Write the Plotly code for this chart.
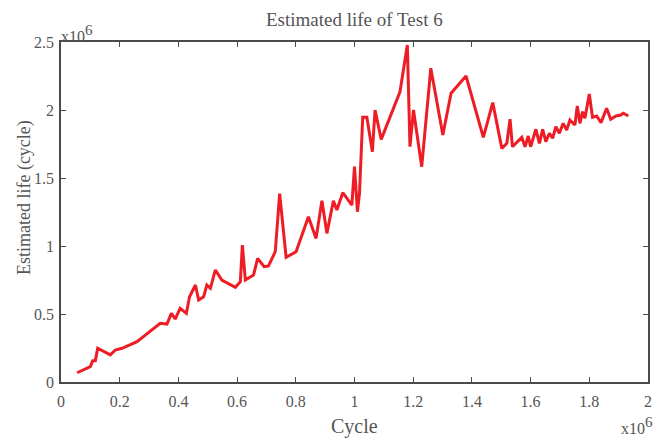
import plotly.graph_objects as go

# Cycle (x10^6) and estimated life (x10^6)
cycle = [0.055, 0.100, 0.108, 0.117, 0.125, 0.168, 0.185, 0.208, 0.259, 0.338,
         0.361, 0.376, 0.389, 0.406, 0.427, 0.438, 0.458, 0.469, 0.486, 0.497,
         0.509, 0.526, 0.548, 0.594, 0.611, 0.618, 0.628, 0.656, 0.670, 0.692,
         0.707, 0.730, 0.745, 0.767, 0.801, 0.843, 0.869, 0.889, 0.906, 0.928,
         0.940, 0.960, 0.991, 1.000, 1.010, 1.017, 1.028, 1.042, 1.061, 1.070,
         1.091, 1.155, 1.180, 1.189, 1.201, 1.229, 1.260, 1.301, 1.329, 1.380,
         1.439, 1.471, 1.502, 1.519, 1.530, 1.538, 1.570, 1.581, 1.592, 1.600,
         1.618, 1.630, 1.641, 1.652, 1.664, 1.675, 1.686, 1.698, 1.711, 1.723,
         1.734, 1.751, 1.759, 1.768, 1.777, 1.785, 1.800, 1.811, 1.825, 1.840,
         1.859, 1.873, 1.891, 1.907, 1.916, 1.933]
life = [0.068, 0.113, 0.157, 0.157, 0.248, 0.199, 0.235, 0.248, 0.296, 0.431,
        0.426, 0.505, 0.463, 0.542, 0.505, 0.627, 0.713, 0.603, 0.627, 0.713,
        0.689, 0.824, 0.750, 0.696, 0.738, 1.007, 0.750, 0.787, 0.909, 0.848,
        0.853, 0.958, 1.385, 0.917, 0.958, 1.215, 1.056, 1.333, 1.093, 1.333,
        1.265, 1.392, 1.301, 1.583, 1.252, 1.387, 1.946, 1.946, 1.693, 2.000,
        1.784, 2.134, 2.478, 1.730, 2.000, 1.583, 2.307, 1.816, 2.123, 2.250,
        1.799, 2.054, 1.718, 1.755, 1.932, 1.730, 1.799, 1.730, 1.809, 1.730,
        1.858, 1.755, 1.858, 1.767, 1.829, 1.792, 1.877, 1.829, 1.902, 1.853,
        1.926, 1.890, 2.029, 1.902, 1.988, 1.939, 2.118, 1.946, 1.956, 1.907,
        2.013, 1.932, 1.956, 1.963, 1.976, 1.956]

x_ticks = [0, 0.2, 0.4, 0.6, 0.8, 1, 1.2, 1.4, 1.6, 1.8, 2]
x_tick_labels = ["0", "0.2", "0.4", "0.6", "0.8", "1", "1.2", "1.4", "1.6", "1.8", "2"]
y_ticks = [0, 0.5, 1, 1.5, 2, 2.5]
y_tick_labels = ["0", "0.5", "1", "1.5", "2", "2.5"]

FONT = "Liberation Serif"
GREY = "#555555"
AXIS = "#4a4a4a"

fig = go.Figure()
fig.add_trace(go.Scatter(x=cycle, y=life, mode="lines",
                         line=dict(color="#ee1c24", width=3),
                         showlegend=False))

axis_common = dict(showline=True, linecolor=AXIS, linewidth=1.5, mirror="ticks",
                   ticks="inside", ticklen=5, tickcolor=AXIS, tickwidth=1.2,
                   showgrid=False, zeroline=False, automargin=False,
                   tickfont=dict(family=FONT, size=16, color=GREY))

# The page body adds an 8px offset, so the figure is 661x433 and margins
# are reduced on the left/top accordingly.
fig.update_layout(
    width=661, height=433,
    margin=dict(l=53, r=21, t=34, b=59),
    paper_bgcolor="white", plot_bgcolor="white",
    xaxis=dict(range=[0, 2], tickvals=x_ticks, ticktext=x_tick_labels,
               ticklabelstandoff=4, **axis_common),
    yaxis=dict(range=[0, 2.5], tickvals=y_ticks, ticktext=y_tick_labels,
               ticklabelstandoff=2, **axis_common),
)

# Title and axis titles placed as annotations
fig.add_annotation(text="Estimated life of Test 6", xref="paper", yref="paper",
                   x=0.5, y=1.065, xanchor="center", yanchor="middle",
                   showarrow=False, font=dict(family=FONT, size=19, color=GREY))
fig.add_annotation(text="Cycle", xref="paper", yref="paper",
                   x=0.5, y=-0.132, xanchor="center", yanchor="middle",
                   showarrow=False, font=dict(family=FONT, size=20, color=GREY))
fig.add_annotation(text="Estimated life (cycle)", xref="paper", yref="paper",
                   x=-0.063, y=0.541, xanchor="center", yanchor="middle",
                   textangle=-90, showarrow=False,
                   font=dict(family=FONT, size=18, color=GREY))

# Exponent labels
EXP = "x10<sup><span style='font-size:15px'>6</span></sup>"
fig.add_annotation(text=EXP, xref="paper", yref="paper",
                   x=0, y=1, xanchor="left", yanchor="bottom", showarrow=False,
                   yshift=-5, xshift=-2,
                   font=dict(family=FONT, size=16, color=GREY))
fig.add_annotation(text=EXP, xref="paper", yref="paper",
                   x=0.981, y=-0.129, xanchor="center", yanchor="middle",
                   showarrow=False,
                   font=dict(family=FONT, size=16, color=GREY))

fig.write_html("out.html")
